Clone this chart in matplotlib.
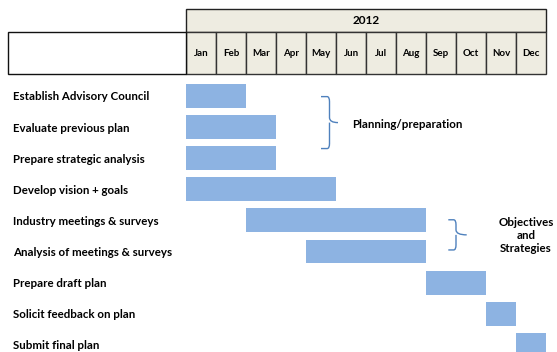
import matplotlib.pyplot as plt
from matplotlib.patches import Rectangle
from matplotlib.path import Path
from matplotlib.patches import PathPatch

plt.rcParams["font.family"] = ["Lato", "DejaVu Sans"]
plt.rcParams["font.weight"] = "bold"

YEAR = "2012"
MONTHS = ["Jan", "Feb", "Mar", "Apr", "May", "Jun",
          "Jul", "Aug", "Sep", "Oct", "Nov", "Dec"]

TASKS = [
    "Establish Advisory Council",
    "Evaluate previous plan",
    "Prepare strategic analysis",
    "Develop vision + goals",
    "Industry meetings & surveys",
    "Analysis of meetings & surveys",
    "Prepare draft plan",
    "Solicit feedback on plan",
    "Submit final plan",
]
# start month index (0 = Jan) and duration in months
START = [0, 0, 0, 0, 2, 4, 8, 10, 11]
DURATION = [2, 3, 3, 5, 6, 4, 2, 1, 1]

# phase brackets: (top row, bottom row, label)
PHASE_TOP = [0.02, 3.98]
PHASE_BOTTOM = [1.69, 4.95]
PHASE_LABEL = ["Planning/preparation", "Objectives\nand\nStrategies"]

BAR_COLOR = "#8DB3E2"
HEAD_FILL = "#EEECE1"
BRACE_COLOR = "#4F81BD"

W, H = 557, 352
fig = plt.figure(figsize=(W / 100, H / 100), dpi=100)

# pixel layout of the chart grid
X0, COLW = 186, 30            # left edge of Jan column, month width
Y0, ROWH = 96, 31.1           # centre of first task row, row pitch

ax = fig.add_axes([0, 0, 1, 1])
ax.set_xlim(-X0 / COLW, (W - X0) / COLW)
ax.set_ylim((H - Y0) / ROWH, -Y0 / ROWH)
ax.axis("off")

rows = list(range(len(TASKS)))
ax.barh(rows, DURATION, left=START, height=0.77, color=BAR_COLOR, lw=0)

for r, name in zip(rows, TASKS):
    ax.text((13 - X0) / COLW, r + 0.03, name, ha="left", va="center",
            fontsize=8.3, color="black")

# ── header table (year row + month row) ───────────────────────────────
hy_top, hy_mid, hy_bot = 9, 32, 74
hax = fig.add_axes([X0 / W, 1 - hy_bot / H, 12 * COLW / W,
                    (hy_bot - hy_top) / H])
hax.set_xlim(0, 12)
hax.set_ylim(hy_bot - hy_top, 0)
hax.axis("off")
mid = hy_mid - hy_top
full = hy_bot - hy_top
hax.add_patch(Rectangle((0, 0), 12, mid, facecolor=HEAD_FILL,
                        edgecolor="#222222", lw=1.0, clip_on=False))
hax.text(6, mid / 2, YEAR, ha="center", va="center", fontsize=8.5)
for i, m in enumerate(MONTHS):
    hax.add_patch(Rectangle((i, mid), 1, full - mid, facecolor=HEAD_FILL,
                            edgecolor="#333333", lw=1.0, clip_on=False))
    hax.text(i + 0.5, (mid + full) / 2 + 0.5, m, ha="center", va="center",
             fontsize=7)
# empty label box to the left of the months
hax.add_patch(Rectangle(((8 - X0) / COLW, mid), (X0 - 8) / COLW, full - mid,
                        facecolor="white", edgecolor="#111111", lw=1.0,
                        clip_on=False))

# ── phase braces ──────────────────────────────────────────────────────
def brace(ax, x_left, x_bar, x_tip, y0, y1):
    ym = (y0 + y1) / 2
    c = 0.08
    verts = [(x_left, y0), (x_bar - c, y0), (x_bar, y0), (x_bar, y0 + c * 2),
             (x_bar, ym - c * 2), (x_bar, ym), (x_tip, ym),
             (x_bar, ym), (x_bar, ym + c * 2),
             (x_bar, y1 - c * 2), (x_bar, y1), (x_bar - c, y1), (x_left, y1)]
    codes = [Path.MOVETO, Path.LINETO, Path.CURVE3, Path.CURVE3,
             Path.LINETO, Path.CURVE3, Path.LINETO,
             Path.MOVETO, Path.CURVE3,
             Path.LINETO, Path.CURVE3, Path.CURVE3, Path.LINETO]
    ax.add_patch(PathPatch(Path(verts, codes), fill=False,
                           edgecolor=BRACE_COLOR, lw=1.0))

px = lambda p: (p - X0) / COLW
brace(ax, px(321), px(329.5), px(338), PHASE_TOP[0], PHASE_BOTTOM[0])
ax.text(px(352.5), (PHASE_TOP[0] + PHASE_BOTTOM[0]) / 2 + 0.05,
        PHASE_LABEL[0], ha="left", va="center", fontsize=8.3)
brace(ax, px(448.3), px(456), px(466.7), PHASE_TOP[1], PHASE_BOTTOM[1])
ax.text(px(526), (PHASE_TOP[1] + PHASE_BOTTOM[1]) / 2 + 0.02,
        PHASE_LABEL[1], ha="center", va="center", fontsize=8.3,
        linespacing=1.25)

fig.savefig("out.png", dpi=100)
